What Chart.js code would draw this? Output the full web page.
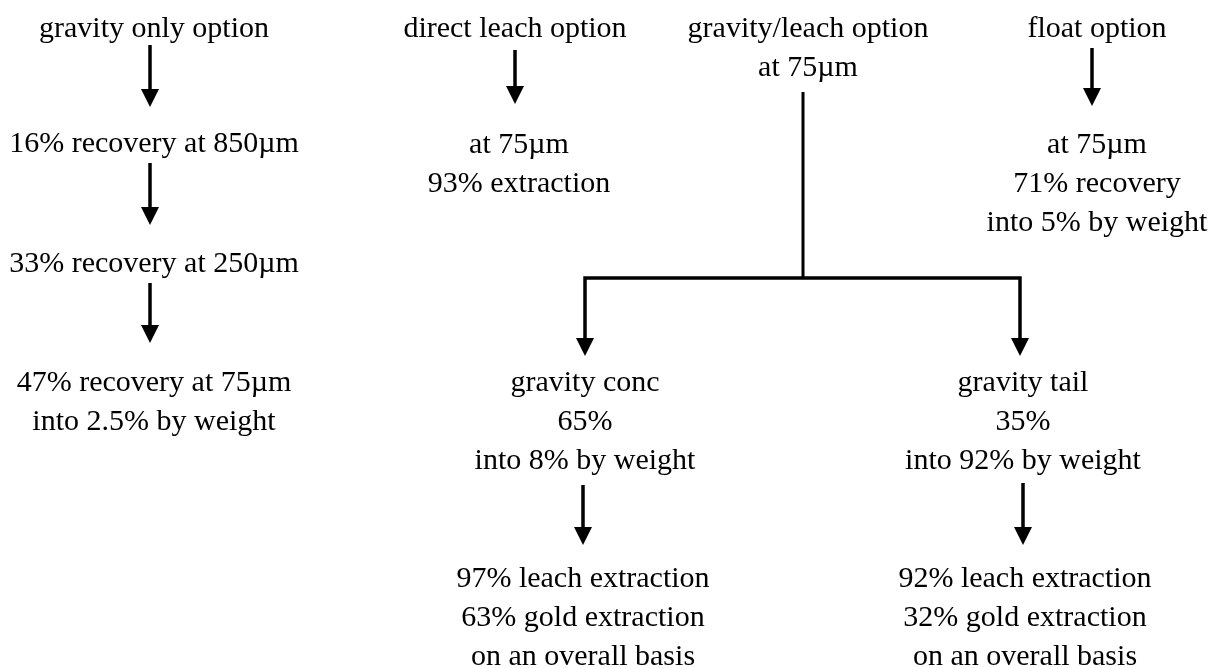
<!DOCTYPE html>
<html>
<head>
<meta charset="utf-8">
<script src="https://cdn.jsdelivr.net/npm/chart.js@4.4.1/dist/chart.umd.min.js"></script>
<style>
  html, body { margin:0; padding:0; background:#fff; }
  #wrap { width:1219px; height:668px; }
</style>
</head>
<body>
<div id="wrap"><canvas id="flow" width="1219" height="668"></canvas></div>
<script>
// flow sheet — options and their recoveries

// text blocks: centre x, first line y, lines
const nodeX = [154, 154, 154, 154, 515, 519, 808, 1097, 1097, 585, 1023, 583, 1025];
const nodeY = [29, 144, 264, 383, 29, 145, 29, 29, 145, 383, 383, 579, 579];
const nodeText = [
  ['gravity only option'],
  ['16% recovery at 850µm'],
  ['33% recovery at 250µm'],
  ['47% recovery at 75µm', 'into 2.5% by weight'],
  ['direct leach option'],
  ['at 75µm', '93% extraction'],
  ['gravity/leach option', 'at 75µm'],
  ['float option'],
  ['at 75µm', '71% recovery', 'into 5% by weight'],
  ['gravity conc', '65%', 'into 8% by weight'],
  ['gravity tail', '35%', 'into 92% by weight'],
  ['97% leach extraction', '63% gold extraction', 'on an overall basis'],
  ['92% leach extraction', '32% gold extraction', 'on an overall basis']
];

// straight arrows: x, top of shaft, tip
const arrowX   = [150, 150, 150, 515, 1092, 583, 1023];
const arrowTop = [45, 163, 283, 50, 48, 485, 483];
const arrowTip = [107, 225, 343, 104, 106, 545, 545];

// split of the gravity/leach option
const stemX = 803, stemTop = 92;
const branchY = 278;
const branchX = [585, 1020];
const branchTip = [356, 356];

const HEAD_W = 18, HEAD_L = 18;
const LINE_H = 39;

const lineDs = (pts, w) => ({
  type: 'line', data: pts, showLine: true, borderColor: '#000', borderWidth: w,
  pointRadius: 0, borderJoinStyle: 'miter', borderCapStyle: 'butt', fill: false, tension: 0
});

const datasets = [];
arrowX.forEach((x, i) => {
  datasets.push(lineDs([{ x, y: arrowTop[i] }, { x, y: arrowTip[i] - HEAD_L + 2 }], 3.5));
});
datasets.push(lineDs([{ x: stemX, y: stemTop }, { x: stemX, y: branchY }], 3));
datasets.push(lineDs([
  { x: branchX[0], y: branchTip[0] - HEAD_L + 2 },
  { x: branchX[0], y: branchY },
  { x: branchX[1], y: branchY },
  { x: branchX[1], y: branchTip[1] - HEAD_L + 2 }
], 3.5));

const headX = arrowX.concat(branchX);
const headY = arrowTip.concat(branchTip);

const arrowHeads = {
  id: 'arrowHeads',
  afterDatasetsDraw(chart) {
    const { ctx, scales: { x, y } } = chart;
    ctx.save();
    ctx.fillStyle = '#000';
    headX.forEach((hx, i) => {
      const px = x.getPixelForValue(hx), py = y.getPixelForValue(headY[i]);
      ctx.beginPath();
      ctx.moveTo(px, py);
      ctx.lineTo(px - HEAD_W / 2, py - HEAD_L);
      ctx.lineTo(px + HEAD_W / 2, py - HEAD_L);
      ctx.closePath();
      ctx.fill();
    });
    ctx.restore();
  }
};

const textPlugin = {
  id: 'nodeText',
  afterDatasetsDraw(chart) {
    const { ctx, scales: { x, y } } = chart;
    ctx.save();
    ctx.fillStyle = '#000';
    ctx.font = '30px "Liberation Serif", "Times New Roman", serif';
    ctx.textAlign = 'center';
    ctx.textBaseline = 'middle';
    nodeText.forEach((lines, i) => {
      lines.forEach((t, j) => {
        ctx.fillText(t, x.getPixelForValue(nodeX[i]), y.getPixelForValue(nodeY[i] + j * LINE_H));
      });
    });
    ctx.restore();
  }
};

new Chart(document.getElementById('flow'), {
  type: 'scatter',
  data: { datasets },
  options: {
    responsive: false,
    animation: false,
    events: [],
    layout: { padding: 0, autoPadding: false },
    plugins: { legend: { display: false }, tooltip: { enabled: false } },
    scales: {
      x: { type: 'linear', min: 0, max: 1219, display: false },
      y: { type: 'linear', min: 0, max: 668, reverse: true, display: false }
    }
  },
  plugins: [arrowHeads, textPlugin]
});
</script>
</body>
</html>
